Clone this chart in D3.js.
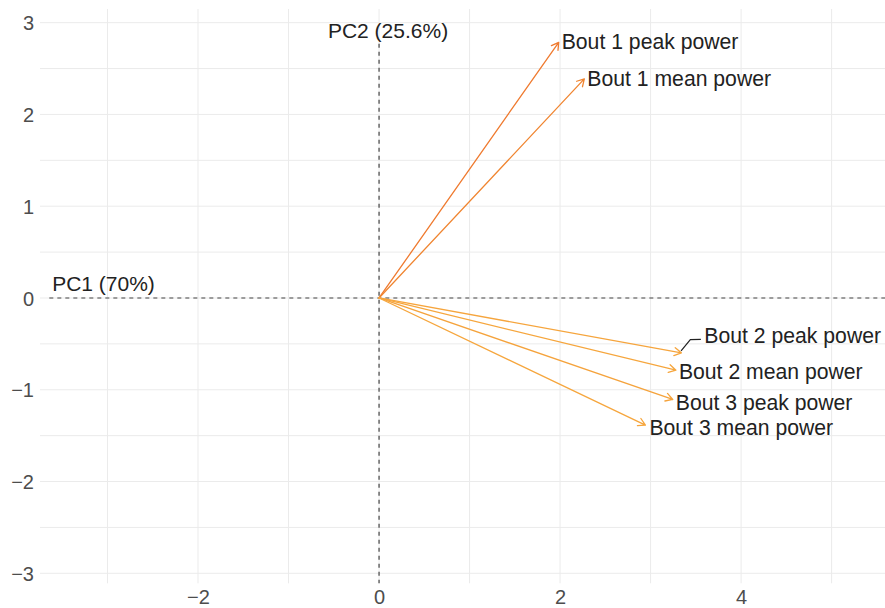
<!DOCTYPE html>
<html>
<head>
<meta charset="utf-8">
<script src="https://cdn.jsdelivr.net/npm/d3@7"></script>
<style>
  html, body { margin: 0; padding: 0; background: #fff; }
  svg { display: block; font-family: "Liberation Sans", Arial, Helvetica, sans-serif; }
</style>
</head>
<body>
<svg id="chart" width="885" height="608"></svg>
<script>
// Variable loadings on the first two principal components
const variables = ["Bout 1 peak power", "Bout 1 mean power", "Bout 2 peak power",
                   "Bout 2 mean power", "Bout 3 peak power", "Bout 3 mean power"];
const pc1 = [1.985, 2.268, 3.340, 3.280, 3.245, 2.943];
const pc2 = [2.786, 2.387, -0.598, -0.787, -1.106, -1.385];
const arrowColors = ["#ef7a2f", "#f08530", "#f6a53d", "#f6a63d", "#f5a33c", "#f6a63d"];

const xTicks = [-2, 0, 2, 4];
const yTicks = [-3, -2, -1, 0, 1, 2, 3];
const xGrid = [-3, -2, -1, 0, 1, 2, 3, 4, 5];
const yGrid = [-3, -2.5, -2, -1.5, -1, -0.5, 0, 0.5, 1, 1.5, 2, 2.5, 3];

const pc1Label = "PC1 (70%)";
const pc2Label = "PC2 (25.6%)";

// label placement relative to each arrow tip (px)
const labelNudge = [[3, -1], [3, 0], [23, -17], [3, 1], [3, 3], [4, 2]];

const W = 885, H = 608;
const panel = { left: 40, right: 885, top: 9, bottom: 583.3 };

const x = d3.scaleLinear().domain([-3.746, 5.59]).range([panel.left, panel.right]);
const y = d3.scaleLinear().domain([-3.109, 3.149]).range([panel.bottom, panel.top]);

const svg = d3.select("#chart");

// grid
const grid = svg.append("g").attr("stroke", "#ebebeb").attr("stroke-width", 1);
grid.selectAll("line.v").data(xGrid).join("line")
  .attr("x1", d => x(d)).attr("x2", d => x(d))
  .attr("y1", panel.top).attr("y2", panel.bottom);
grid.selectAll("line.h").data(yGrid).join("line")
  .attr("x1", panel.left).attr("x2", panel.right)
  .attr("y1", d => y(d)).attr("y2", d => y(d));

// axes (labels only)
const fmt = d => (d < 0 ? "\u2212" + Math.abs(d) : String(d));
const xAxis = d3.axisBottom(x).tickValues(xTicks).tickFormat(fmt).tickSize(0).tickPadding(0);
const yAxis = d3.axisLeft(y).tickValues(yTicks).tickFormat(fmt).tickSize(0).tickPadding(0);

const gx = svg.append("g").attr("transform", `translate(0,${panel.bottom})`).call(xAxis);
gx.select(".domain").remove();
gx.selectAll("text").attr("font-size", 20).attr("fill", "#4d4d4d")
  .attr("font-family", "Liberation Sans, Arial, sans-serif")
  .attr("dy", null).attr("y", 20.5);

const gy = svg.append("g").attr("transform", `translate(${panel.left - 6},0)`).call(yAxis);
gy.select(".domain").remove();
gy.selectAll("text").attr("font-size", 20).attr("fill", "#4d4d4d")
  .attr("font-family", "Liberation Sans, Arial, sans-serif")
  .attr("dy", "0.36em");

// reference lines through the origin
svg.append("line")
  .attr("x1", x(-3.643)).attr("x2", panel.right)
  .attr("y1", y(0)).attr("y2", y(0))
  .attr("stroke", "#444").attr("stroke-width", 1.2).attr("stroke-dasharray", "4,4");
svg.append("line")
  .attr("x1", x(0)).attr("x2", x(0))
  .attr("y1", y(2.77)).attr("y2", panel.bottom)
  .attr("stroke", "#444").attr("stroke-width", 1.2).attr("stroke-dasharray", "4,4");

svg.append("text").text(pc1Label)
  .attr("x", x(-3.612)).attr("y", y(0) - 14.5).attr("dy", "0.35em")
  .attr("font-size", 21).attr("fill", "#222");
svg.append("text").text(pc2Label)
  .attr("x", x(-0.565)).attr("y", y(0) - 267).attr("dy", "0.35em")
  .attr("font-size", 21).attr("fill", "#222");

// loading arrows
const data = variables.map((name, i) => ({ name, px: pc1[i], py: pc2[i], color: arrowColors[i], nudge: labelNudge[i] }));
const arrows = svg.append("g").attr("fill", "none").attr("stroke-width", 1.3).attr("stroke-linecap", "round");
const headLen = 8, headAng = Math.PI / 6;
data.forEach(d => {
  const x0 = x(0), y0 = y(0), x1 = x(d.px), y1 = y(d.py);
  const a = Math.atan2(y1 - y0, x1 - x0);
  const p = d3.path();
  p.moveTo(x0, y0); p.lineTo(x1, y1);
  p.moveTo(x1 - headLen * Math.cos(a - headAng), y1 - headLen * Math.sin(a - headAng));
  p.lineTo(x1, y1);
  p.lineTo(x1 - headLen * Math.cos(a + headAng), y1 - headLen * Math.sin(a + headAng));
  arrows.append("path").attr("d", p.toString()).attr("stroke", d.color).attr("stroke-linejoin", "round");
});

// connector for the displaced label
const d2 = data[2];
svg.append("path")
  .attr("d", d3.line()([[x(d2.px) - 0.3, y(d2.py) - 2], [x(d2.px) + 9, y(d2.py) - 13.3], [x(d2.px) + 19.5, y(d2.py) - 13.5]]))
  .attr("fill", "none").attr("stroke", "#222").attr("stroke-width", 1.2);

// variable labels
svg.append("g").selectAll("text").data(data).join("text")
  .attr("x", d => x(d.px) + d.nudge[0])
  .attr("y", d => y(d.py) + d.nudge[1])
  .attr("dy", "0.35em")
  .attr("font-size", 21.2).attr("fill", "#222")
  .text(d => d.name);
</script>
</body>
</html>
